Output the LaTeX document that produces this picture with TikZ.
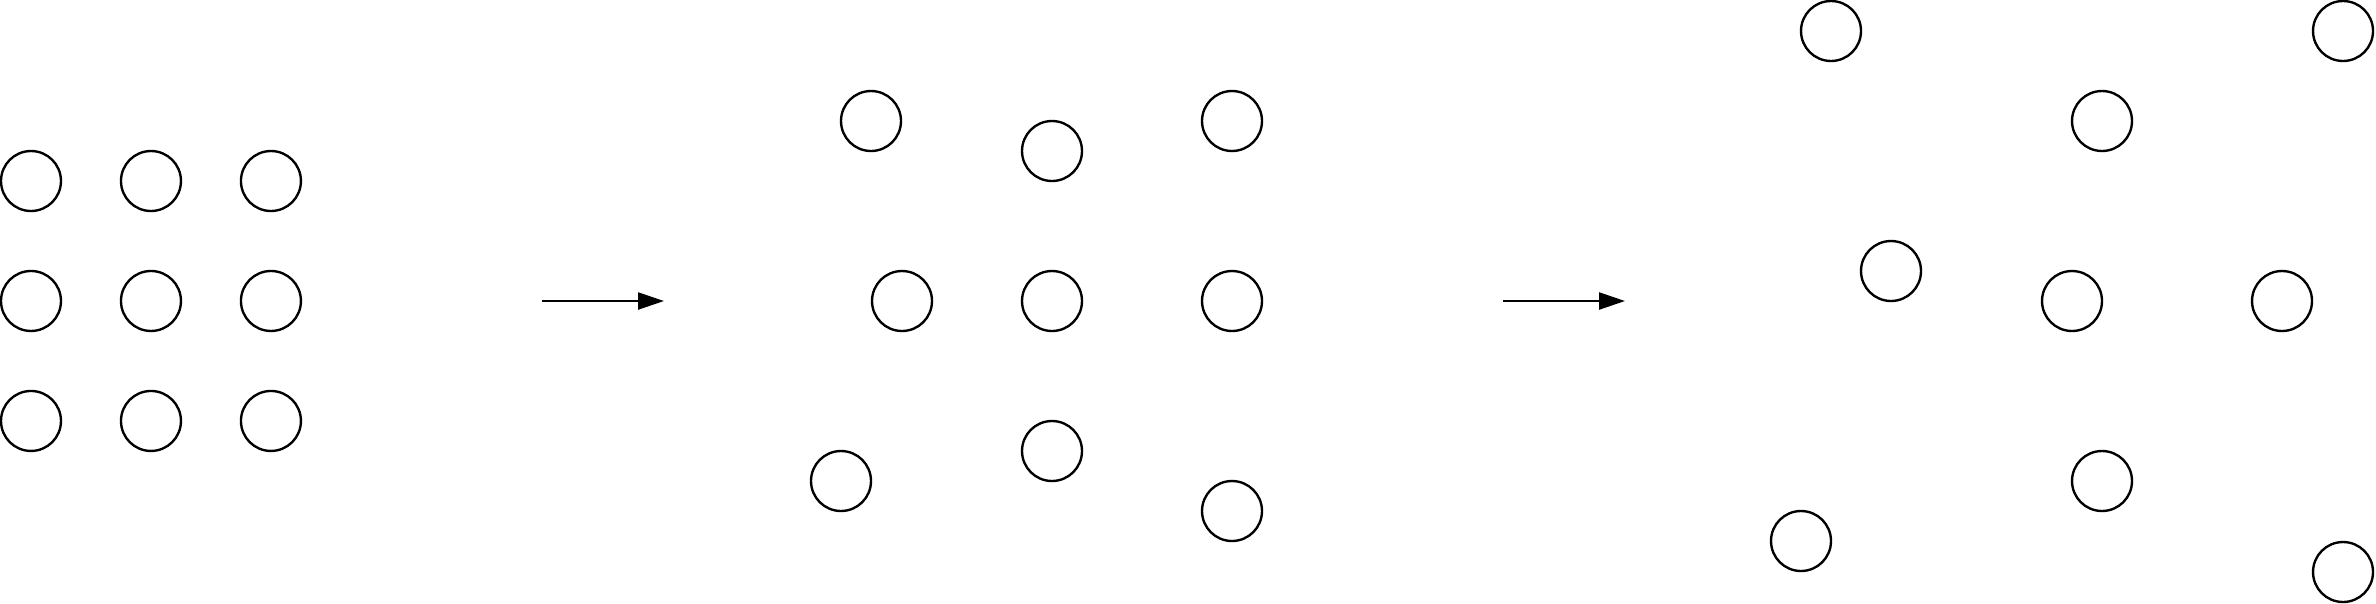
\documentclass[tikz,border=0pt]{standalone}
\usepackage{tikz}
\usetikzlibrary{arrows.meta, positioning}

\begin{document}
\begin{tikzpicture}[x=0.02cm, y=-0.02cm, node distance=2.4cm, on grid,
  ball/.style={draw, circle, line width=1.35pt, minimum size=1.2cm, inner sep=0pt},
  move/.style={-{Triangle[length=0.52cm, width=0.34cm]}, line width=1.35pt}]
  \useasboundingbox (0,0) rectangle (2376,603);
  % Regular grid
  \node[ball] (a1) at (31,181) {};
  \node[ball, right=of a1] (a2) {};
  \node[ball, right=of a2] (a3) {};
  \node[ball, below=of a1] (a4) {};
  \node[ball, right=of a4] (a5) {};
  \node[ball, right=of a5] (a6) {};
  \node[ball, below=of a4] (a7) {};
  \node[ball, right=of a7] (a8) {};
  \node[ball, right=of a8] (a9) {};
  % Slightly moved
  \node[ball] (b1) at (871,121) {};
  \node[ball] (b2) at (1052,151) {};
  \node[ball] (b3) at (1232,121) {};
  \node[ball] (b4) at (902,301) {};
  \node[ball] (b5) at (1052,301) {};
  \node[ball] (b6) at (1232,301) {};
  \node[ball] (b7) at (841,481) {};
  \node[ball] (b8) at (1052,451) {};
  \node[ball] (b9) at (1232,511) {};
  % Spread out
  \node[ball] (c1) at (1831,31) {};
  \node[ball] (c2) at (2102,121) {};
  \node[ball] (c3) at (2343,31) {};
  \node[ball] (c4) at (1891,271) {};
  \node[ball] (c5) at (2072,301) {};
  \node[ball] (c6) at (2282,301) {};
  \node[ball] (c7) at (1801,541) {};
  \node[ball] (c8) at (2102,481) {};
  \node[ball] (c9) at (2343,572) {};
  % Arrows
  \coordinate (s1) at (542,301);
  \coordinate (e1) at (664,301);
  \coordinate (s2) at (1503,301);
  \coordinate (e2) at (1625,301);
  \draw[move] (s1) -- (e1);
  \draw[move] (s2) -- (e2);
\end{tikzpicture}
\end{document}
